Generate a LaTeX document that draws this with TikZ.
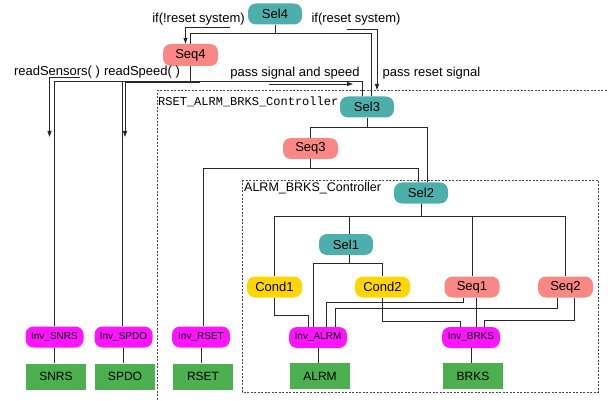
\documentclass[tikz,border=0pt]{standalone}
\usepackage{fontspec}
\setmainfont{Liberation Sans}
\setmonofont{Liberation Mono}
\usetikzlibrary{arrows.meta}

\definecolor{selc}{RGB}{77,175,172}
\definecolor{seqc}{RGB}{249,136,132}
\definecolor{condc}{RGB}{255,214,0}
\definecolor{invc}{RGB}{255,20,255}
\definecolor{actc}{RGB}{76,175,80}
\definecolor{linec}{RGB}{40,40,40}

\begin{document}
\begin{tikzpicture}[x=1pt,y=-1pt,
  every node/.style={inner sep=0pt},
  bt/.style={rounded corners=8pt, minimum width=54pt, minimum height=21pt, text=black,
    font=\fontsize{13}{15}\selectfont},
  selnode/.style={bt, fill=selc},
  seqnode/.style={bt, fill=seqc, minimum width=55pt},
  condnode/.style={bt, fill=condc, minimum width=55pt},
  invnode/.style={bt, fill=invc, minimum width=58pt, font=\fontsize{10}{12}\selectfont},
  actnode/.style={fill=actc, minimum width=60pt, minimum height=26pt,
    font=\fontsize{12}{14}\selectfont},
  tree/.style={draw=linec, line width=0.9pt},
  flow/.style={draw=linec, line width=0.9pt, -{Triangle[length=6pt,width=4pt]}},
  lbl/.style={font=\fontsize{13}{15}\selectfont},
  group/.style={draw=linec!85, line width=0.9pt, dash pattern=on 2pt off 1.5pt},
]
\useasboundingbox (0,0) rectangle (608,401);
\clip (0,0) rectangle (608,401);

% controller groups
\draw[group] (157.5,410) -- (157.5,90.5) -- (620,90.5);
\draw[group] (242,180) rectangle (598,392);
\node[anchor=west, font=\ttfamily\fontsize{12}{14}\selectfont] (outerlbl) at (158,102) {RSET\_ALRM\_BRKS\_Controller};
\node[anchor=west, font=\fontsize{12.5}{14}\selectfont] (innerlbl) at (244,188) {ALRM\_BRKS\_Controller};

% behaviour tree nodes
\node[selnode] (Sel4) at (275,14) {Sel4};
\node[seqnode, minimum height=22pt] (Seq4) at (190.5,55) {Seq4};
\node[selnode] (Sel3) at (367,107) {Sel3};
\node[seqnode] (Seq3) at (310.5,148.5) {Seq3};
\node[selnode] (Sel2) at (421,193) {Sel2};
\node[selnode] (Sel1) at (346,244.5) {Sel1};
\node[condnode] (Cond1) at (274.5,287) {Cond1};
\node[condnode] (Cond2) at (382.5,287) {Cond2};
\node[seqnode] (Seq1) at (472,287) {Seq1};
\node[seqnode] (Seq2) at (565.5,287) {Seq2};

\node[invnode] (InvSNRS) at (54.5,337) {Inv\_SNRS};
\node[invnode] (InvSPDO) at (123.5,337) {Inv\_SPDO};
\node[invnode] (InvRSET) at (201,337) {Inv\_RSET};
\node[invnode] (InvALRM) at (318,337.5) {Inv\_ALRM};
\node[invnode] (InvBRKS) at (471,337.5) {Inv\_BRKS};

\node[actnode] (SNRS) at (56,376.5) {SNRS};
\node[actnode] (SPDO) at (125,376.5) {SPDO};
\node[actnode] (RSET) at (203,376.5) {RSET};
\node[actnode] (ALRM) at (320,376) {ALRM};
\node[actnode] (BRKS) at (473,376) {BRKS};

% tree edges
\draw[tree] (Sel4.south) -- ++(0,9) -| (Seq4.north);
\draw[tree] (Sel4.south) -- ++(0,9) -| ([xshift=4pt]Sel3.north);

\draw[tree] (Seq4.south) -- ++(0,15) -| (InvSNRS.north);
\draw[tree] (Seq4.south) -- ++(0,15) -| ([xshift=-1.5pt]InvSPDO.north);
\draw[tree] (Seq4.south) -- ++(0,15) -| ([xshift=-5pt]Sel3.north);

\draw[tree] (Sel3.south) -- ++(0,10) -| (Seq3.north);
\draw[tree] (Sel3.south) -- ++(0,10) -| ([xshift=6pt]Sel2.north);

\draw[tree] (Seq3.south) -- ++(0,9) -| ([xshift=2pt]InvRSET.north);
\draw[tree] (Seq3.south) -- ++(0,9) -| ([xshift=-3pt]Sel2.north);

\draw[tree] (Sel2.south) -- ++(0,13) -| (Cond1.north);
\draw[tree] (Sel2.south) -- ++(0,13) -| ([xshift=3pt]Sel1.north);
\draw[tree] (Sel2.south) -- ++(0,13) -| (Seq1.north);
\draw[tree] (Sel2.south) -- ++(0,13) -| (Seq2.north);

\draw[tree] ([xshift=3pt]Sel1.south) -- ++(0,8) -| (Cond2.north);
\draw[tree] ([xshift=3pt]Sel1.south) -- ++(0,8) -| ([xshift=-5pt]InvALRM.north);

\draw[tree] (Cond1.south) -- ++(0,18) -| ([xshift=-10pt]InvALRM.north);
\draw[tree] (Cond2.south) -- ++(0,24) -| ([xshift=-11pt]InvBRKS.north);
\draw[tree] ([xshift=-9pt]Seq1.south) -- ++(0,5) -| ([xshift=8pt]InvALRM.north);
\draw[tree] ([xshift=4pt]Seq1.south) -- ([xshift=4pt]Seq1.south |- InvBRKS.north);
\draw[tree] ([xshift=-8pt]Seq2.south) -- ++(0,11) -| ([xshift=17pt]InvALRM.north);
\draw[tree] ([xshift=9pt]Seq2.south) -- ++(0,23) -| ([xshift=13pt]InvBRKS.north);

\draw[tree] (InvSNRS.south) -- (InvSNRS.south |- SNRS.north);
\draw[tree] (InvSPDO.south) -- (InvSPDO.south |- SPDO.north);
\draw[tree] (InvRSET.south) -- (InvRSET.south |- RSET.north);
\draw[tree] (InvALRM.south) -- (InvALRM.south |- ALRM.north);
\draw[tree] (InvBRKS.south) -- (InvBRKS.south |- BRKS.north);

% signal labels
\node[lbl] (lblNotReset) at (198.5,19) {if(!reset system)};
\node[lbl] (lblReset) at (356,19) {if(reset system)};
\node[lbl] (lblSensors) at (57,72) {readSensors( )};
\node[lbl] (lblSpeed) at (142,72) {readSpeed( )};
\node[lbl] (lblPass) at (295,73) {pass signal and speed};
\node[lbl] (lblPassReset) at (431.5,73) {pass reset signal};

% signal arrows
\coordinate (aStart) at (230,27);
\draw[flow] (aStart) -| ([xshift=-5pt]Seq4.north);
\coordinate (bStart) at (347,29);
\coordinate (bEnd) at (377,90);
\draw[flow] (bStart) -| (bEnd);
\coordinate (cStart) at (269,84);
\coordinate (cEnd) at (353,84);
\draw[flow] (cStart) -- (cEnd);
\coordinate (dStart) at (80,77.5);
\coordinate (dEnd) at (49.5,137);
\draw[flow] (dStart) -| (dEnd);
\coordinate (eStart) at (200,82.5);
\coordinate (eEnd) at (125,137);
\draw[flow] (eStart) -| (eEnd);
\end{tikzpicture}
\end{document}
